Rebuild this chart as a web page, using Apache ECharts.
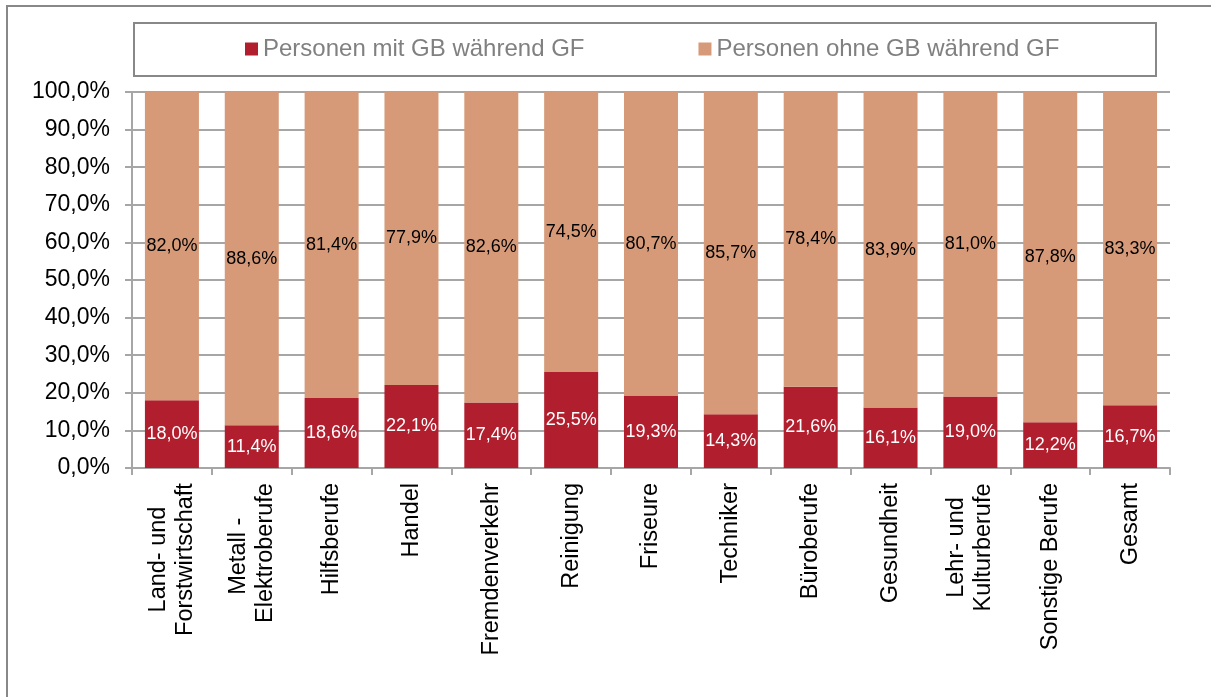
<!DOCTYPE html>
<html>
<head>
<meta charset="utf-8">
<script src="https://cdn.jsdelivr.net/npm/echarts@6/dist/echarts.min.js"></script>
<style>
  html, body { margin: 0; padding: 0; background: #fff; }
  #chart { width: 1211px; height: 697px; }
</style>
</head>
<body>
<div id="chart"></div>
<script>
// categories and values
const categories = ['Land- und\nForstwirtschaft', 'Metall - \nElektroberufe', 'Hilfsberufe', 'Handel', 'Fremdenverkehr',
  'Reinigung', 'Friseure', 'Techniker', 'Büroberufe', 'Gesundheit', 'Lehr- und\nKulturberufe', 'Sonstige Berufe', 'Gesamt'];
const mitGB = [18.0, 11.4, 18.6, 22.1, 17.4, 25.5, 19.3, 14.3, 21.6, 16.1, 19.0, 12.2, 16.7];
const ohneGB = [82.0, 88.6, 81.4, 77.9, 82.6, 74.5, 80.7, 85.7, 78.4, 83.9, 81.0, 87.8, 83.3];
const seriesNames = ['Personen mit GB während GF', 'Personen ohne GB während GF'];

const FONT = "'Liberation Sans', Arial, sans-serif";
const gray = '#a6a6a6';
const catSize = 23.5;

function pct(v) {
  return v.toFixed(1).replace('.', ',') + '%';
}

// two-line category labels: lines are centred on each other like in Excel
const cv = document.createElement('canvas').getContext('2d');
cv.font = catSize + 'px ' + FONT;
const rich = {};
categories.forEach(function (c, i) {
  if (c.indexOf('\n') >= 0) {
    let w = Math.max.apply(null, c.split('\n').map(function (l) { return cv.measureText(l).width; }));
    rich['w' + i] = { width: Math.ceil(w), align: 'center', fontSize: catSize, fontFamily: FONT, color: '#000', lineHeight: 27 };
  }
});

const chart = echarts.init(document.getElementById('chart'));
chart.setOption({
  animation: false,
  textStyle: { fontFamily: FONT },
  graphic: [
    { type: 'rect', shape: { x: 7, y: 6, width: 1400, height: 900 }, style: { fill: 'none', stroke: '#888', lineWidth: 2 }, silent: true },
    { type: 'rect', shape: { x: 134, y: 23, width: 1022, height: 53 }, style: { fill: '#fff', stroke: '#888', lineWidth: 2 }, silent: true, z: 0 }
  ],
  legend: {
    top: 37,
    left: 245,
    padding: 0,
    itemWidth: 13,
    itemHeight: 13,
    itemGap: 114,
    icon: 'rect',
    z: 10,
    textStyle: { fontSize: 24, color: '#808080', fontFamily: FONT },
    data: seriesNames
  },
  grid: { left: 132, right: 41, top: 92, bottom: 229 },
  xAxis: {
    type: 'category',
    data: categories,
    axisLine: { lineStyle: { color: gray, width: 2 } },
    axisTick: { show: true, length: 7, lineStyle: { color: gray, width: 2 } },
    axisLabel: {
      rotate: 90,
      interval: 0,
      margin: 15,
      fontSize: catSize,
      color: '#000',
      fontFamily: FONT,
      lineHeight: 27,
      rich: rich,
      formatter: function (v, i) {
        if (v.indexOf('\n') < 0) return v;
        return v.split('\n').map(function (l) { return '{w' + i + '|' + l + '}'; }).join('\n');
      }
    }
  },
  yAxis: {
    type: 'value',
    min: 0,
    max: 100,
    interval: 10,
    axisLine: { show: true, lineStyle: { color: gray, width: 2 } },
    axisTick: { show: true, length: 7, lineStyle: { color: gray, width: 2 } },
    splitLine: { lineStyle: { color: gray, width: 2 } },
    axisLabel: { fontSize: 23, color: '#000', margin: 22, fontFamily: FONT, formatter: pct }
  },
  series: [{
    name: seriesNames[0],
    type: 'bar',
    stack: 'total',
    barWidth: 54,
    itemStyle: { color: '#b11e2e' },
    label: {
      show: true,
      position: 'inside',
      color: '#fff',
      fontSize: 18,
      fontFamily: FONT,
      formatter: function (p) { return pct(p.value); }
    },
    data: mitGB
  }, {
    name: seriesNames[1],
    type: 'bar',
    stack: 'total',
    barWidth: 54,
    itemStyle: { color: '#d69a78' },
    label: {
      show: true,
      position: 'inside',
      color: '#000',
      fontSize: 18,
      fontFamily: FONT,
      formatter: function (p) { return pct(p.value); }
    },
    data: ohneGB
  }]
});
</script>
</body>
</html>
